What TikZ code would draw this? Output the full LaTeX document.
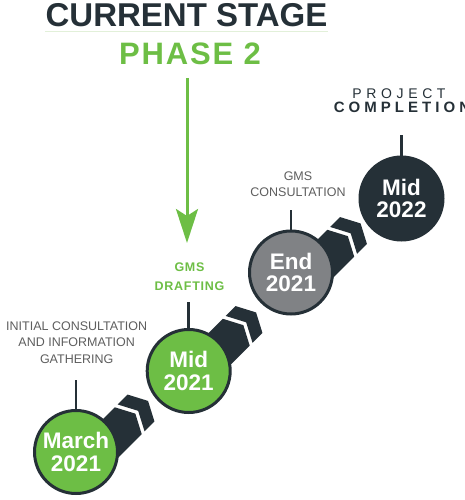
\documentclass[tikz,border=0pt]{standalone}
\usepackage{fontspec}
\setmainfont{Liberation Sans}
\usetikzlibrary{arrows.meta}
\definecolor{gr}{HTML}{6DBE45}
\definecolor{dk}{HTML}{253037}
\definecolor{gy}{HTML}{808285}
\definecolor{tx}{HTML}{5E5E5E}
\definecolor{ul}{HTML}{E2F0D9}
\tikzset{
  milestone/.style={circle, draw=dk, line width=3pt, minimum size=83pt, inner sep=0pt,
    text=white, font=\fontsize{22.5}{22.5}\selectfont\bfseries, align=center},
  stem/.style={draw=dk, line width=2.5pt},
  band/.style={fill=dk},
  note/.style={inner sep=0pt, align=center, text=tx, font=\fontsize{12.5}{16.7}\selectfont},
}
\newcommand\chevbar[1]{%
  \begin{scope}[shift={#1}, rotate=45]
    \fill[band] (0,-19) -- (10,0) -- (0,19) -- (-14,19) -- (-4,0) -- (-14,-19) -- cycle;
    \fill[band] (-18,-19) -- (-8,0) -- (-18,19) -- (-75,19) -- (-75,-19) -- cycle;
  \end{scope}}
\begin{document}
\begin{tikzpicture}[x=1pt,y=-1pt]
\path[use as bounding box] (0,0) rectangle (464,500);
\clip (0,0) rectangle (464,500);
% connectors (bands)
\chevbar{(141,408)}
\chevbar{(249,319.5)}
\chevbar{(353.5,230.5)}
% milestones
\node[milestone, fill=gr] (m1) at (76,452) {March\\2021};
\node[milestone, fill=gr] (m2) at (188.7,371) {Mid\\2021};
\node[milestone, fill=gy] (m3) at (291,272.5) {End\\2021};
\node[milestone, fill=dk] (m4) at (401.5,198.5) {Mid\\2022};
% stems
\coordinate (s1) at (76,380);
\coordinate (s2) at (188.7,302);
\coordinate (s3) at (291,210);
\coordinate (s4) at (401.5,135);
\draw[stem] (s1) -- (m1.north);
\draw[stem] (s2) -- (m2.north);
\draw[stem] (s3) -- (m3.north);
\draw[stem] (s4) -- (m4.north);
% title
\node[inner sep=0pt, anchor=base, text=dk, font=\fontsize{33}{33}\selectfont\bfseries] (title) at (186.5,26.7) {CURRENT STAGE};
\draw[ul, line width=1.2pt] ([yshift=-5pt]title.base west) -- ([yshift=-5pt]title.base east);
\node[inner sep=0pt, anchor=base, text=gr, font=\fontsize{31}{31}\selectfont\bfseries\addfontfeature{LetterSpace=6}] (phase) at (190,65) {PHASE 2};
% arrow
\coordinate (a0) at (187,78);
\coordinate (a1) at (187,243);
\draw[gr, line width=3pt, -{Stealth[length=34pt, width=22pt, inset=7pt]}] (a0) -- (a1);
% labels
\node[inner sep=0pt, anchor=base, text=dk, font=\fontsize{14}{14}\selectfont\addfontfeature{LetterSpace=33}] (proj) at (399,98.3) {PROJECT};
\node[inner sep=0pt, anchor=base, text=dk, font=\fontsize{15}{15}\selectfont\bfseries\addfontfeature{LetterSpace=27}] (compl) at (402,112.3) {COMPLETION};
\node[note] (cons) at (298,184.2) {GMS\\CONSULTATION};
\node[note] (init) at (76.7,342.5) {INITIAL CONSULTATION\\AND INFORMATION\\GATHERING};
\node[inner sep=0pt, align=center, text=gr, font=\fontsize{12.5}{18.3}\selectfont\bfseries\addfontfeature{LetterSpace=6}] (draft) at (189.5,276.7) {GMS\\DRAFTING};
\end{tikzpicture}
\end{document}
